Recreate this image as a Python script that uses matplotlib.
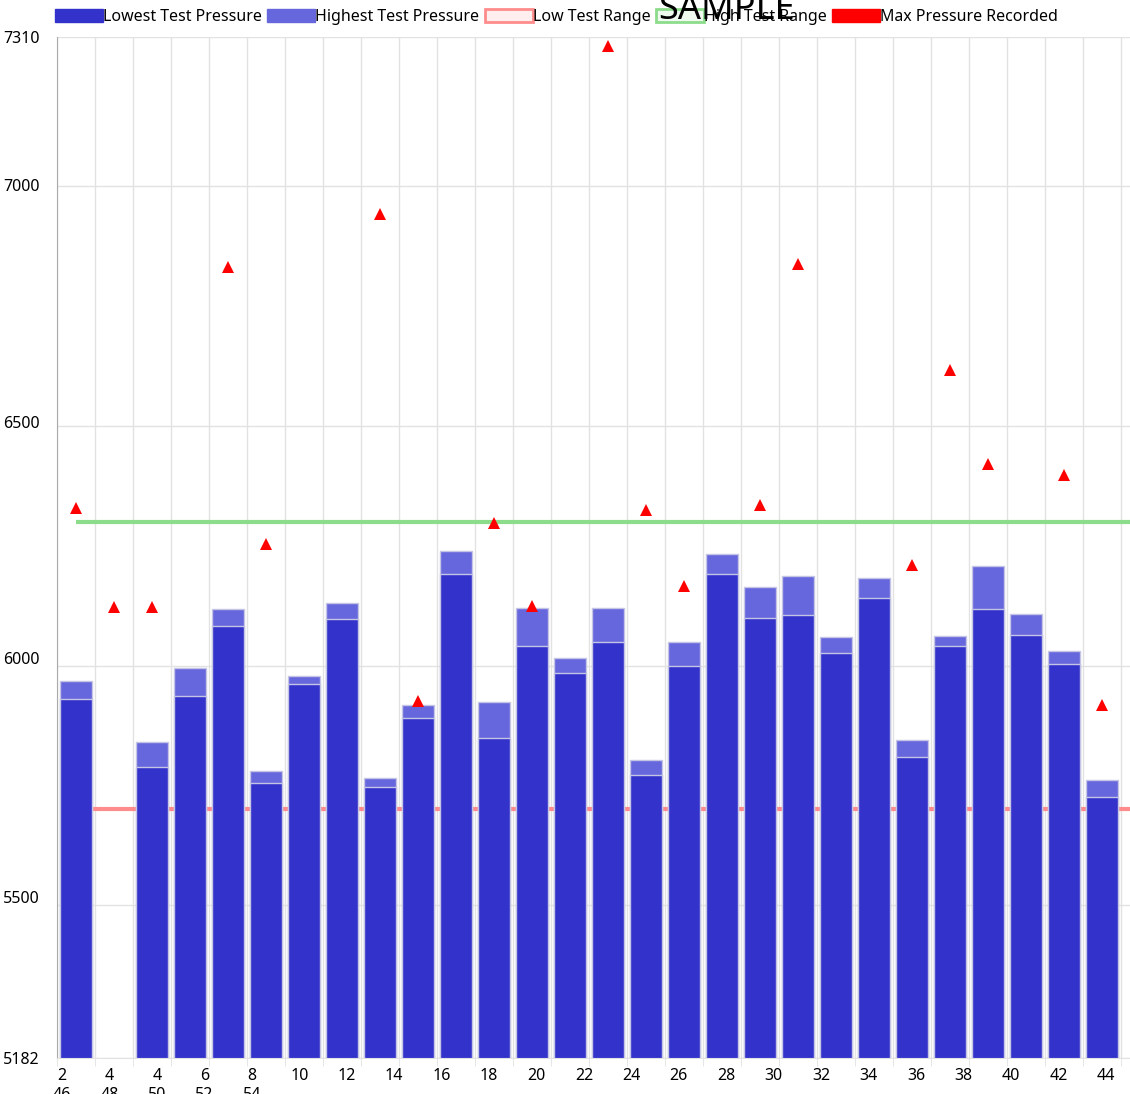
import numpy as np
import matplotlib
matplotlib.use('Agg')
import matplotlib.pyplot as plt
from matplotlib.patches import Patch
from matplotlib.transforms import ScaledTranslation

plt.rcParams['font.family'] = ['Noto Sans', 'DejaVu Sans']

# category labels, laid out by the chart in two wrapped rows
x_labels = ['2', '4'] + [str(v) for v in range(4, 56, 2)]

nan = np.nan
lowest = [5930, nan, 5789, 5937, 6082, 5755, 5962, 6097, 5747, 5891,
          6191, 5849, 6041, 5984, 6049, 5772, 5999, 6191, 6099, 6105,
          6026, 6141, 5809, 6041, 6118, 6064, 6003, 5726]
highest = [5968, nan, 5841, 5995, 6118, 5780, 5978, 6130, 5766, 5918,
           6239, 5924, 6120, 6016, 6120, 5803, 6049, 6232, 6164, 6187,
           6059, 6182, 5845, 6062, 6207, 6107, 6030, 5761]
max_recorded = [6328, 6122, 6122, nan, 6831, 6253, nan, nan, 6941, 5926,
                nan, 6297, 6124, nan, 7291, 6324, 6166, nan, 6335, 6837,
                nan, nan, 6210, 6616, 6420, nan, 6397, 5918]
low_range = 5700
high_range = 6300

y_min, y_max = 5182, 7310
y_ticks = [5182, 5500, 6000, 6500, 7000, 7310]

n = len(lowest)
n_slots = n + 1   # chart continues past the right edge of the picture
x = np.arange(n)

fig = plt.figure(figsize=(11.3, 10.94), dpi=100)
ax = fig.add_axes([57 / 1130, 36 / 1094, 38 * n_slots / 1130, 1021 / 1094])

ax.bar(x, highest, width=0.82, color='#6666dd', edgecolor='#c4c4e4', linewidth=1, zorder=2)
ax.bar(x, lowest, width=0.82, color='#3333cc', edgecolor='#c4c4e4', linewidth=1, zorder=2.1)
ax.hlines(low_range, 0, n_slots, color='#ff8c8c', linewidth=3, zorder=1.5)
ax.hlines(high_range, 0, n_slots, color='#8cdc8c', linewidth=3, zorder=1.5)
ax.plot(x, max_recorded, linestyle='none', marker='^', markersize=8,
        color='red', markeredgewidth=0, zorder=4)

ax.set_xlim(-0.5, n_slots - 0.5)
ax.set_ylim(y_min, y_max)

# vertical grid at category boundaries
ax.set_xticks(np.arange(-0.5, n_slots, 1), minor=True)
ax.grid(True, which='minor', axis='x', color='#e2e2e2', linewidth=1)
ax.grid(True, which='major', axis='y', color='#e2e2e2', linewidth=1)
ax.set_axisbelow(True)
ax.tick_params(axis='x', which='minor', length=6, color='#e2e2e2')

# wrapped x labels
row1 = x_labels[:23]
row2 = x_labels[23:]
tick_txt = [r + ('\n' + row2[k] if k < len(row2) else '') for k, r in enumerate(row1)]
step = 47.45 / 38
tick_pos = -0.5 + 5 / 38 + step * np.arange(len(row1))
ax.set_xticks(tick_pos, tick_txt)
ax.tick_params(axis='x', which='major', length=0, pad=7, labelsize=11.5)
for lbl in ax.get_xticklabels():
    lbl.set_va('top')
    lbl.set_linespacing(1.25)

ax.set_yticks(y_ticks, [str(t) for t in y_ticks])
ax.tick_params(axis='y', length=0, pad=39, labelsize=11.5)
lift = {5500: 8, 6000: 8, 6500: 4, 7000: 1}
for t, lbl in zip(y_ticks, ax.get_yticklabels()):
    lbl.set_ha('left')
    if t in lift:
        lbl.set_transform(lbl.get_transform() +
                          ScaledTranslation(0, lift[t] / 100, fig.dpi_scale_trans))

for s in ['top', 'right']:
    ax.spines[s].set_visible(False)
ax.spines['left'].set_color('#aaaaaa')
ax.spines['bottom'].set_color('#e2e2e2')

handles = [
    Patch(facecolor='#3333cc', edgecolor='#3333cc'),
    Patch(facecolor='#6666dd', edgecolor='#6666dd'),
    Patch(facecolor='#ffeeee', edgecolor='#ff8c8c', linewidth=2),
    Patch(facecolor='#eefaee', edgecolor='#8cdc8c', linewidth=2),
    Patch(facecolor='red', edgecolor='red'),
]
names = ['Lowest Test Pressure', 'Highest Test Pressure', 'Low Test Range',
         'High Test Range', 'Max Pressure Recorded']
fig.legend(handles, names, loc='upper left', bbox_to_anchor=(55 / 1130, 1 - 9 / 1094),
           ncol=5, frameon=False, fontsize=11.5, handlelength=3.0, handleheight=0.9,
           handletextpad=0.0, columnspacing=0.35, borderaxespad=0, borderpad=0)

fig.text(727 / 1130, 1 - 19 / 1094, 'SAMPLE', ha='center', va='baseline',
         fontsize=26, color='black', zorder=10)

fig.savefig('out.png', dpi=100)
